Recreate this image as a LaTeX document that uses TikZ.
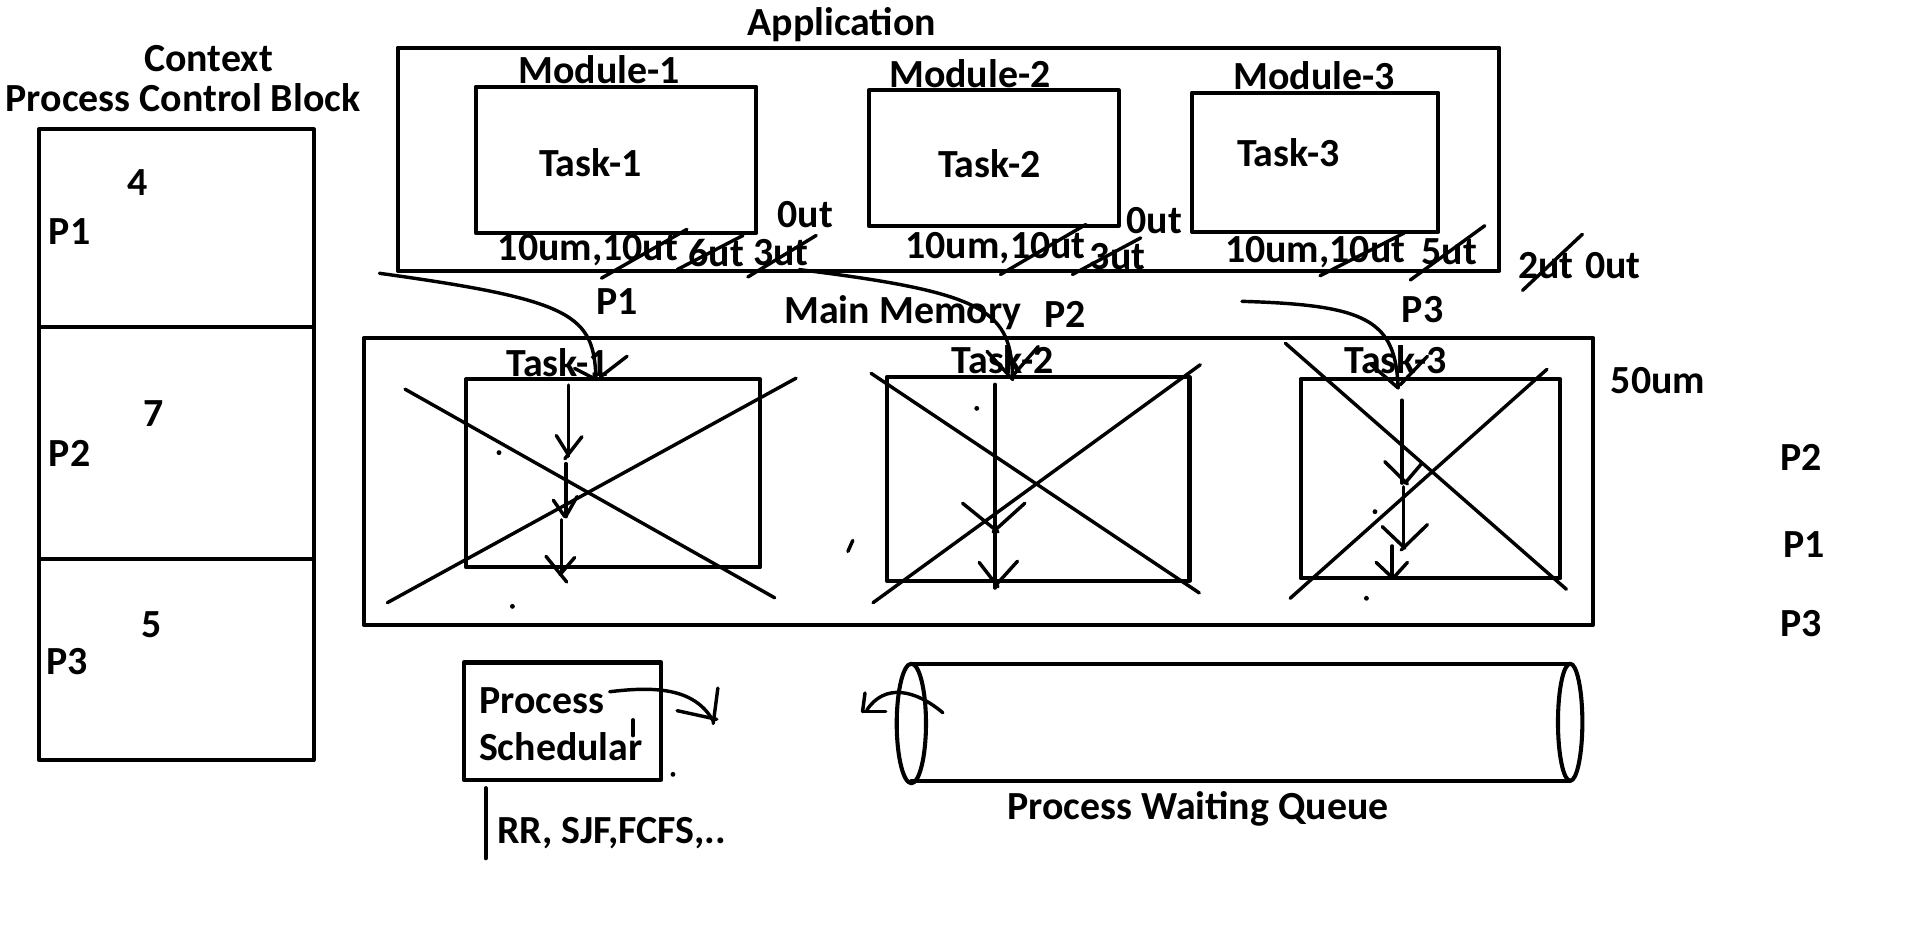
\documentclass[tikz,border=0pt]{standalone}
\usepackage{fontspec}
\setmainfont{Carlito}
\begin{document}
\begin{tikzpicture}[x=0.1mm,y=-0.1mm,line cap=round,line join=round,
  lbl/.style={font=\fontsize{9.3}{11}\selectfont\bfseries,inner sep=0pt},
  box/.style={draw,line width=0.95pt},
  pen/.style={line width=0.8pt},
  dotm/.style={fill,circle,inner sep=0pt,minimum size=0.4mm}]
\useasboundingbox (0,0) rectangle (1568,776);

% ---------- PCB ----------
\node[lbl] (ctx) at (171,48) {Context};
\node[lbl] (pcbt) at (150,80) {Process Control Block};
\draw[box] (32,106) rectangle (257,623);
\draw[box] (32,268) -- (257,268);
\draw[box] (32,458) -- (257,458);
\node[lbl] (n4) at (113,150) {4};
\node[lbl] (pa1) at (57,190) {P1};
\node[lbl] (n7) at (126,339) {7};
\node[lbl] (pa2) at (57,372) {P2};
\node[lbl] (n5) at (124,512) {5};
\node[lbl] (pa3) at (55,542) {P3};

% ---------- Application ----------
\node[lbl] (app) at (690,20) {Application};
\draw[box] (326,39) rectangle (1229,222);
\node[lbl] (m1) at (491,57) {Module-1};
\node[lbl] (m2) at (795,60) {Module-2};
\node[lbl] (m3) at (1077,62) {Module-3};
\draw[box] (390,71) rectangle (620,191);
\draw[box] (712,74) rectangle (917,185);
\draw[box] (977,76) rectangle (1179,190);
\node[lbl] (at1) at (484,133) {Task-1};
\node[lbl] (at2) at (811,134) {Task-2};
\node[lbl] (at3) at (1056,125) {Task-3};

\node[lbl] (r1) at (482,205) {10um,10ut};
\node[lbl] (u6) at (587,207) {6ut};
\node[lbl] (u3a) at (640,207) {3ut};
\node[lbl] (u0a) at (660,176) {0ut};
\node[lbl] (r2) at (816,203) {10um,10ut};
\node[lbl] (u3b) at (916,210) {3ut};
\node[lbl] (u0b) at (946,181) {0ut};
\node[lbl] (r3) at (1078,207) {10um,10ut};
\node[lbl] (u5) at (1188,206) {5ut};
\node[lbl] (u2) at (1267,218) {2ut};
\node[lbl] (u0c) at (1322,218) {0ut};

% strikes
\draw[pen] (493,228) -- (563,188);
\draw[pen] (555,221) -- (609,193);
\draw[pen] (613,227) -- (669,193);
\draw[pen] (820,225) -- (890,184);
\draw[pen] (879,225) -- (935,195);
\draw[pen] (1082,226) -- (1151,191);
\draw[pen] (1156,229.5) -- (1217,185);
\draw[pen] (1248,238) -- (1297,192);

% ---------- Main memory ----------
\node[lbl] (pm1) at (506,247) {P1};
\node[lbl] (mm) at (740,256) {Main Memory};
\node[lbl] (pm2) at (873,258) {P2};
\node[lbl] (pm3) at (1166,254) {P3};
\draw[box] (298,277) rectangle (1306,512);
\node[lbl] (mt1) at (457,297) {Task-1};
\node[lbl] (mt2) at (822,295) {Task-2};
\node[lbl] (mt3) at (1144,295) {Task-3};
\draw[box] (382,311) rectangle (623,465);
\draw[box] (727,309) rectangle (975,476);
\draw[box] (1066,311) rectangle (1279,474);
\node[lbl] (um) at (1359,312) {50um};
\node[lbl] (q2) at (1476,375) {P2};
\node[lbl] (q1) at (1479,446) {P1};
\node[lbl] (q3) at (1476,511) {P3};

% crosses
\draw[pen] (332,319) -- (635,490);
\draw[pen] (317.5,494) -- (652.5,310);
\draw[pen] (714,306) -- (983,486);
\draw[pen] (715.6,494) -- (983.8,299);
\draw[pen] (1053.6,281.4) -- (1283.9,483);
\draw[pen] (1057.5,490.4) -- (1268,302.7);

% incoming curves
\coordinate (s1) at (311,224); \coordinate (e1) at (488.5,311);
\coordinate (s2) at (655,221); \coordinate (e2) at (830,311);
\coordinate (s3) at (1018,247); \coordinate (e3) at (1146,318);
\draw[pen] (s1) .. controls (470,246) and (487,258) .. (e1);
\draw[pen] (471,302) -- (e1); \draw[pen] (514,292) -- (492,309);
\draw[pen] (s2) .. controls (810,240) and (829,255) .. (e2);
\draw[pen] (809,288) -- (e2); \draw[pen] (851,284) -- (831,307);
\draw[pen] (s3) .. controls (1120,250) and (1144,262) .. (e3);
\draw[pen] (1124,299) -- (e3); \draw[pen] (1170,292) -- (1147.5,315.6);

% vertical arrows Task-1
\draw[pen] (466,315.6) -- (466,374);
\draw[pen] (456,357) -- (466,373); \draw[pen] (477,358) -- (463,376);
\draw[pen] (464,380) -- (464,423.5);
\draw[pen] (453.5,410) -- (463,423.5); \draw[pen] (473,407) -- (464.5,422);
\draw[pen] (460,426) -- (460,470);
\draw[pen] (447.5,456) -- (464.5,477); \draw[pen] (471,457) -- (459,471);
% Task-2
\draw[pen] (815.6,315) -- (815.6,482);
\draw[pen] (789,412.5) -- (818,436); \draw[pen] (840,412.5) -- (814,436);
\draw[pen] (802.6,461) -- (818,481); \draw[pen] (834,460) -- (816.4,479.5);
% Task-3
\draw[pen] (1149,328) -- (1149,396);
\draw[pen] (1135,378.4) -- (1153.6,396.7); \draw[pen] (1165.4,379.8) -- (1151.6,396);
\draw[pen] (1150.5,399) -- (1150.5,448);
\draw[pen] (1133,431.7) -- (1151.6,449.4); \draw[pen] (1170,430) -- (1148.5,450.8);
\draw[pen] (1141,447.5) -- (1141,472.7);
\draw[pen] (1128,461) -- (1141.8,474); \draw[pen] (1153.6,461) -- (1141.8,474);

% stray marks
\node[dotm] (d1) at (409,371) {};
\node[dotm] (d2) at (420,497) {};
\node[dotm] (d3) at (800.6,334.7) {};
\node[dotm] (d4) at (1127,419.4) {};
\node[dotm] (d5) at (1120,490.4) {};
\node[dotm] (d6) at (551.6,634.7) {};
\draw[pen] (695,452) -- (699,443);
\draw[pen] (519,590) -- (519,603);

% ---------- Scheduler ----------
\draw[box] (380,543) rectangle (542,639);
\node[lbl,anchor=west] (ps1) at (392,574) {Process};
\node[lbl,anchor=west] (ps2) at (392,612) {Schedular};
\draw[box] (398,646) -- (398,703.5);
\node[lbl,anchor=west] (alg) at (407,683) {RR, SJF,FCFS,..};

\coordinate (sa) at (499.7,567); \coordinate (ea) at (584.6,591);
\draw[pen] (sa) .. controls (540,562) and (570,565) .. (ea);
\draw[pen] (588.4,564) -- (584.6,593); \draw[pen] (555,582.5) -- (587.5,589.6);

% ---------- Queue ----------
\draw[box] (747,544) -- (1287,544);
\draw[box] (747,640) -- (1287,640);
\draw[box] (747,593) ellipse [x radius=12, y radius=49];
\draw[box] (1287,592) ellipse [x radius=10, y radius=48];
\node[lbl] (pwq) at (982,663) {Process Waiting Queue};

\coordinate (sb) at (772.8,584.2); \coordinate (eb) at (710.5,582);
\draw[pen] (sb) .. controls (750,565) and (725,560) .. (eb);
\draw[pen] (709,568) -- (707,583.3); \draw[pen] (707,583.3) -- (726,583.3);
\end{tikzpicture}
\end{document}
